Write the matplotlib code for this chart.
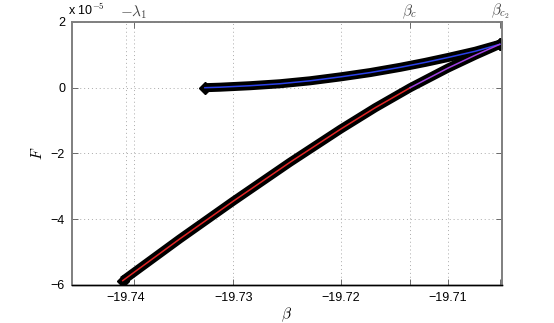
import numpy as np
import matplotlib
matplotlib.use("Agg")
import matplotlib.pyplot as plt

# values (F in units of 1e-5)
beta_upper = [-19.73264, -19.73124, -19.72844, -19.72565, -19.72285, -19.72,
              -19.71726, -19.71446, -19.71213, -19.71, -19.70747, -19.70520]
F_upper = [0.0, 0.015, 0.06, 0.12, 0.21, 0.33, 0.46, 0.62, 0.77, 0.92, 1.11, 1.32]

beta_red = [-19.74028, -19.73497, -19.73003, -19.72472, -19.72, -19.71679, -19.71353]
F_red = [-5.87, -4.60, -3.46, -2.27, -1.26, -0.61, 0.0]

beta_purple = [-19.71353, -19.71, -19.70747, -19.70520]
F_purple = [0.0, 0.60, 0.99, 1.32]

xticks = [-19.74, -19.73, -19.72, -19.71]
yticks = [-6, -4, -2, 0, 2]
top_ticks = [-19.73925, -19.71357, -19.70520]
top_labels = [r'$-\lambda_1$', r'$\beta_c$', r'$\beta_{c_2}$']

plt.rcParams['font.family'] = ['Liberation Sans', 'DejaVu Sans']
plt.rcParams['mathtext.fontset'] = 'cm'

fig = plt.figure(figsize=(5.54, 3.23), dpi=100)
ax = fig.add_axes([0.130, 0.118, 0.776, 0.814])

grey = '#7f7f7f'
# thick black outlines
for b, f in [(beta_upper, F_upper), (beta_red + beta_purple[1:], F_red + F_purple[1:])]:
    ax.plot(b, f, color='black', lw=6.5, solid_capstyle='butt',
            solid_joinstyle='round', zorder=3)
    ax.plot([b[0]], [f[0]], marker='D', ms=6, color='black', zorder=3)
    ax.plot([b[-1]], [f[-1]], marker='D', ms=6, color='black', zorder=3)

ax.plot(beta_upper, F_upper, color='#2a40e8', lw=1.1, zorder=4,
        solid_joinstyle='round')
ax.plot(beta_red, F_red, color='#e02424', lw=1.1, zorder=4,
        solid_joinstyle='round')
ax.plot(beta_purple, F_purple, color='#a040e0', lw=1.1, zorder=4,
        solid_joinstyle='round')

ax.set_xlim(-19.745, -19.705)
ax.set_ylim(-6, 2)
ax.set_xticks(xticks)
ax.set_xticklabels(['\u221219.74', '\u221219.73', '\u221219.72', '\u221219.71'])
ax.set_yticks(yticks)
ax.set_yticklabels(['\u22126', '\u22124', '\u22122', '0', '2'])
ax.tick_params(direction='in', top=True, right=True, labelsize=9, length=4,
               width=0.6, color='#555555', pad=5)
ax.grid(True, linestyle=(0, (1, 3)), color='#aaaaaa', lw=0.7)

# extra vertical grid lines with labels on top
for b in top_ticks[:2]:
    ax.axvline(b, linestyle=(0, (1, 3)), color='#aaaaaa', lw=0.7, zorder=0)
ax2 = ax.twiny()
ax2.set_xlim(ax.get_xlim())
ax2.set_xticks(top_ticks)
ax2.set_xticklabels(top_labels, fontsize=11, color='#444444')
ax2.tick_params(direction='in', top=True, bottom=True, length=4, width=0.6,
                color='#555555', pad=1)

for a in (ax, ax2):
    for s in ('left', 'top', 'right'):
        a.spines[s].set_color(grey)
        a.spines[s].set_linewidth(1.2)
    a.spines['bottom'].set_color('black')
    a.spines['bottom'].set_linewidth(1.0)

ax.set_xlabel(r'$\beta$', fontsize=11, labelpad=1)
ax.set_ylabel(r'$F$', fontsize=11, labelpad=4)
fig.text(0.123, 0.945, r'x 10$^{-5}$', fontsize=9, ha='left', va='bottom')

fig.savefig('out.png', dpi=100)
